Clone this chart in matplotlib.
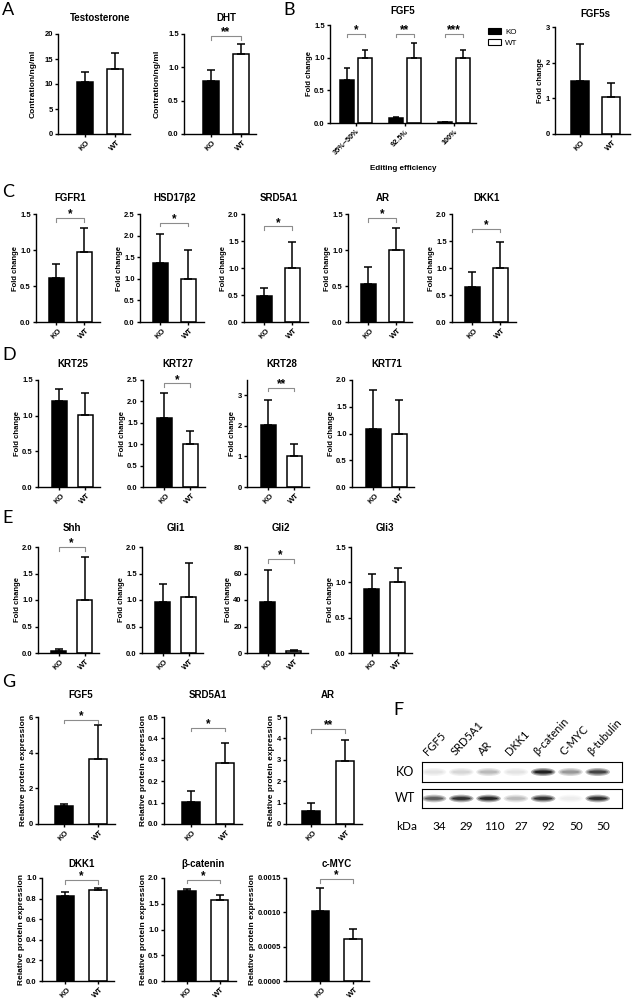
import numpy as np
import matplotlib
matplotlib.use('Agg')
import matplotlib.pyplot as plt
from matplotlib.patches import Patch, Ellipse
from matplotlib.ticker import FormatStrFormatter
import matplotlib.transforms as mtransforms

plt.rcParams['font.family'] = ['Liberation Sans', 'DejaVu Sans']

W, H = 641, 999

# ---------------- data ----------------
groups = ['KO', 'WT']

# A
a_titles = ['Testosterone', 'DHT']
a_ko = [10.5, 0.80]
a_ko_err = [2.0, 0.16]
a_wt = [13.0, 1.20]
a_wt_err = [3.3, 0.15]
a_sig = ['', '**']
a_sig_y = [None, 1.47]
a_ymax = [20, 1.5]
a_ystep = [5, 0.5]

# B
b_eff = ['35%~50%', '92.5%', '100%']
b_ko = [0.66, 0.075, 0.01]
b_ko_err = [0.18, 0.012, 0.0]
b_wt = [1.0, 1.0, 1.0]
b_wt_err = [0.11, 0.22, 0.11]
b_sig = ['*', '**', '***']
b_sig_y = 1.36
b2_ko, b2_ko_err = 1.48, 1.05
b2_wt, b2_wt_err = 1.05, 0.38

# C
c_titles = ['FGFR1', 'HSD17β2', 'SRD5A1', 'AR', 'DKK1']
c_ko = [0.61, 1.37, 0.48, 0.53, 0.64]
c_ko_err = [0.19, 0.67, 0.15, 0.23, 0.28]
c_wt = [0.97, 1.0, 1.0, 1.0, 1.0]
c_wt_err = [0.34, 0.67, 0.48, 0.30, 0.48]
c_sig = ['*', '*', '*', '*', '*']
c_sig_y = [1.44, 2.3, 1.77, 1.44, 1.73]
c_ymax = [1.5, 2.5, 2.0, 1.5, 2.0]
c_ystep = [0.5, 0.5, 0.5, 0.5, 0.5]

# D
d_titles = ['KRT25', 'KRT27', 'KRT28', 'KRT71']
d_ko = [1.21, 1.62, 2.03, 1.08]
d_ko_err = [0.17, 0.57, 0.81, 0.73]
d_wt = [1.01, 1.01, 1.0, 1.0]
d_wt_err = [0.31, 0.30, 0.41, 0.62]
d_sig = ['', '*', '**', '']
d_sig_y = [None, 2.42, 3.25, None]
d_ymax = [1.5, 2.5, 3.5, 2.0]
d_ystep = [0.5, 0.5, 1, 0.5]

# E
e_titles = ['Shh', 'Gli1', 'Gli2', 'Gli3']
e_ko = [0.044, 0.96, 38.3, 0.91]
e_ko_err = [0.035, 0.34, 24.7, 0.21]
e_wt = [1.0, 1.06, 1.25, 1.0]
e_wt_err = [0.82, 0.63, 1.2, 0.2]
e_sig = ['*', '', '*', '']
e_sig_y = [2.0, None, 71, None]
e_ymax = [2.0, 2.0, 80, 1.5]
e_ystep = [0.5, 0.5, 20, 0.5]

# G
g_titles = ['FGF5', 'SRD5A1', 'AR', 'DKK1', 'β-catenin', 'c-MYC']
g_ko = [0.99, 0.105, 0.61, 0.83, 1.74, 0.00102]
g_ko_err = [0.15, 0.05, 0.38, 0.03, 0.05, 0.00033]
g_wt = [3.64, 0.287, 2.93, 0.88, 1.58, 0.00061]
g_wt_err = [1.89, 0.09, 0.98, 0.02, 0.095, 0.000145]
g_sig = ['*', '*', '**', '*', '*', '*']
g_sig_y = [5.85, 0.45, 4.44, 0.98, 1.97, 0.00148]
g_ymax = [6, 0.5, 5, 1.0, 2.0, 0.0015]
g_ystep = [2, 0.1, 1, 0.2, 0.5, 0.0005]

# F (western blot)
f_proteins = ['FGF5', 'SRD5A1', 'AR', 'DKK1', 'β-catenin', 'C-MYC', 'β-tubulin']
f_kda = [34, 29, 110, 27, 92, 50, 50]
f_ko_band = [0.12, 0.18, 0.3, 0.12, 0.97, 0.45, 0.82]
f_wt_band = [0.7, 0.9, 0.95, 0.3, 0.9, 0.08, 0.92]

# ---------------- helpers ----------------
fig = plt.figure(figsize=(W / 100, H / 100), dpi=100)


def px_axes(left, right, top, bottom):
    return fig.add_axes([left / W, 1 - bottom / H, (right - left) / W, (bottom - top) / H])


def style_axes(ax, ymax, ystep, fmt):
    for s in ['top', 'right']:
        ax.spines[s].set_visible(False)
    for s in ['left', 'bottom']:
        ax.spines[s].set_linewidth(1.0)
    ax.set_ylim(0, ymax)
    ax.set_yticks(np.arange(0, ymax + ystep * 0.01, ystep))
    ax.yaxis.set_major_formatter(FormatStrFormatter(fmt))
    ax.tick_params(length=2.5, width=1.0, labelsize=5.5, pad=1.2)
    for lab in ax.get_yticklabels():
        lab.set_fontweight('bold')


def bracket(ax, x0, x1, y, d, sig):
    ax.plot([x0, x0, x1, x1], [y - d, y, y, y - d], color='#8c8c8c', lw=0.8, clip_on=False)
    ax.text((x0 + x1) / 2, y - d * 0.6, sig, ha='center', va='bottom', fontsize=8.5,
            fontweight='bold')


def draw_pair(left, top, bottom, unit, lm, rm, bw, title, ko, ko_e, wt, wt_e,
              ymax, ystep, fmt, ylabel, sig, sig_y, tpad, lpad, ylsize=5.5):
    right = left + (lm + 1 + rm) * unit
    ax = px_axes(left, right, top, bottom)
    ax.bar([0, 1], [ko, wt], width=bw, color=['black', 'white'], edgecolor='black',
           linewidth=1.1, zorder=2)
    ax.errorbar([0, 1], [ko, wt], yerr=[[0, 0], [ko_e, wt_e]], fmt='none', ecolor='black',
                elinewidth=1.1, capsize=2.8, capthick=1.1, zorder=3)
    ax.set_xlim(-lm, 1 + rm)
    style_axes(ax, ymax, ystep, fmt)
    ax.set_xticks([0, 1])
    ax.set_xticklabels(groups, rotation=45, ha='center', va='top', fontsize=5.6,
                       fontweight='bold')
    tx = (0.5 + lm) / (lm + 1 + rm)
    ax.set_title(title, fontsize=7, fontweight='bold', pad=tpad, x=tx)
    ax.set_ylabel(ylabel, fontsize=ylsize, fontweight='bold', labelpad=lpad)
    if sig:
        bracket(ax, 0, 1, sig_y, ymax * 0.035, sig)
    return ax


# ---------------- A ----------------
a_lefts = [58, 184]
a_fmt = ['%d', '%.1f']
for i in range(2):
    draw_pair(a_lefts[i], 34, 134, 30, 0.9, 0.5, 0.53, a_titles[i], a_ko[i], a_ko_err[i],
              a_wt[i], a_wt_err[i], a_ymax[i], a_ystep[i], a_fmt[i], 'Contration/ng/ml',
              a_sig[i], a_sig_y[i], 9.4, 5.5, ylsize=6.0)

# ---------------- B ----------------
ax = px_axes(330, 476, 25, 123)
xg = np.arange(len(b_eff))
off, bwb = 0.18, 0.29
ax.bar(xg - off, b_ko, width=bwb, color='black', edgecolor='black', linewidth=1.1,
       zorder=2, label='KO')
ax.bar(xg + off, b_wt, width=bwb, color='white', edgecolor='black', linewidth=1.1,
       zorder=2, label='WT')
ax.errorbar(xg - off, b_ko, yerr=[np.zeros(3), b_ko_err], fmt='none', ecolor='black',
            elinewidth=1.1, capsize=2.5, capthick=1.1, zorder=3)
ax.errorbar(xg + off, b_wt, yerr=[np.zeros(3), b_wt_err], fmt='none', ecolor='black',
            elinewidth=1.1, capsize=2.5, capthick=1.1, zorder=3)
ax.set_xlim(-0.53, 2.45)
style_axes(ax, 1.5, 0.5, '%.1f')
ax.set_xticks(xg)
ax.set_xticklabels(b_eff, rotation=45, ha='right', rotation_mode='anchor', fontsize=5.3,
                   fontweight='bold')
ax.set_xlabel('Editing efficiency', fontsize=5.8, fontweight='bold', labelpad=6)
ax.set_ylabel('Fold change', fontsize=5.5, fontweight='bold', labelpad=1)
ax.set_title('FGF5', fontsize=7, fontweight='bold', pad=8)
for i in range(3):
    bracket(ax, xg[i] - off, xg[i] + off, b_sig_y, 0.05, b_sig[i])
handles = [Patch(facecolor='black', edgecolor='black', lw=0.8, label='KO'),
           Patch(facecolor='white', edgecolor='black', lw=0.8, label='WT')]
fig.legend(handles=handles, loc='upper left', bbox_to_anchor=(484 / W, 1 - 24 / H),
           frameon=False, fontsize=5.8, handlelength=1.6, handleheight=0.8,
           labelspacing=0.4, handletextpad=0.5, borderpad=0)

draw_pair(555, 27, 134, 31.5, 0.79, 0.6, 0.57, 'FGF5s', b2_ko, b2_ko_err, b2_wt, b2_wt_err,
          3, 1, '%d', 'Fold change', '', None, 7, 1)

# ---------------- C ----------------
c_lefts = [36, 140, 244, 348, 452]
for i in range(5):
    draw_pair(c_lefts[i], 214, 322, 28, 0.73, 0.55, 0.54, c_titles[i], c_ko[i], c_ko_err[i],
              c_wt[i], c_wt_err[i], c_ymax[i], c_ystep[i], '%.1f', 'Fold change',
              c_sig[i], c_sig_y[i], 9.4, 1)

# ---------------- D ----------------
d_lefts = [38, 143, 247, 352]
d_fmt = ['%.1f', '%.1f', '%d', '%.1f']
for i in range(4):
    draw_pair(d_lefts[i], 380, 487, 26, 0.82, 0.55, 0.58, d_titles[i], d_ko[i], d_ko_err[i],
              d_wt[i], d_wt_err[i], d_ymax[i], d_ystep[i], d_fmt[i], 'Fold change',
              d_sig[i], d_sig_y[i], 9.4, 1)

# ---------------- E ----------------
e_lefts = [38, 142, 247, 351]
e_fmt = ['%.1f', '%.1f', '%d', '%.1f']
for i in range(4):
    draw_pair(e_lefts[i], 547, 653, 26, 0.79, 0.55, 0.58, e_titles[i], e_ko[i], e_ko_err[i],
              e_wt[i], e_wt_err[i], e_ymax[i], e_ystep[i], e_fmt[i], 'Fold change',
              e_sig[i], e_sig_y[i], 11.5, 1)

# ---------------- G ----------------
g_lefts = [38, 164, 286, 42, 164, 286]
g_tops = [717, 717, 717, 878, 878, 878]
g_bottoms = [824, 824, 824, 981, 981, 981]
g_units = [34, 34, 34, 32.5, 32.5, 32.5]
g_lm = [0.76, 0.79, 0.74, 0.72, 0.71, 1.06]
g_pad = [13.7, 13.7, 13.7, 8, 8, 8]
g_fmt = ['%d', '%.1f', '%d', '%.1f', '%.1f', '%.4f']
for i in range(6):
    draw_pair(g_lefts[i], g_tops[i], g_bottoms[i], g_units[i], g_lm[i], 0.5, 0.53,
              g_titles[i], g_ko[i], g_ko_err[i], g_wt[i], g_wt_err[i], g_ymax[i],
              g_ystep[i], g_fmt[i], 'Relative protein expression', g_sig[i], g_sig_y[i],
              g_pad[i], 1, ylsize=6.0)

# ---------------- F (blot) ----------------
blot_axes = []
for (top, bottom), bands in zip([(762, 782), (789, 808)], [f_ko_band, f_wt_band]):
    bx = px_axes(422, 622, top, bottom)
    bx.set_xlim(-0.44, 6.89)
    bx.set_ylim(-1, 1)
    bx.set_xticks([])
    bx.set_yticks([])
    for s in bx.spines.values():
        s.set_linewidth(0.8)
    for i, v in enumerate(bands):
        for w, h, a in [(0.9, 0.8, 0.35), (0.78, 0.55, 0.65), (0.66, 0.3, 1.0)]:
            g = 1 - 0.9 * v * a
            bx.add_patch(Ellipse((i, 0), w, h, facecolor=str(g), edgecolor='none'))
    blot_axes.append(bx)

bx = blot_axes[0]
tr = mtransforms.blended_transform_factory(bx.transData, fig.transFigure)
for i, name in enumerate(f_proteins):
    bx.text(i - 0.15, 1.0 - 757 / H, name, transform=tr, rotation=47, ha='left',
            va='bottom', rotation_mode='anchor', fontsize=8, family='Lato')
    bx.text(i + 0.2, 1.0 - 826 / H, str(f_kda[i]), transform=tr, ha='center', va='center',
            fontsize=8.5, family='Lato')
fig.text(405 / W, 1 - 772 / H, 'KO', ha='center', va='center', fontsize=9, family='Lato')
fig.text(405 / W, 1 - 798 / H, 'WT', ha='center', va='center', fontsize=9, family='Lato')
fig.text(407 / W, 1 - 826 / H, 'kDa', ha='center', va='center', fontsize=8.5, family='Lato')

# ---------------- panel letters ----------------
letters = [('A', 2, 2), ('B', 283, 2), ('C', 2, 184), ('D', 2, 347), ('E', 2, 510),
           ('G', 2, 674), ('F', 393, 702)]
for t, x, y in letters:
    fig.text(x / W, 1 - y / H, t, ha='left', va='top', fontsize=13, family='Lato')

fig.savefig('out.png', dpi=100, facecolor='white')
